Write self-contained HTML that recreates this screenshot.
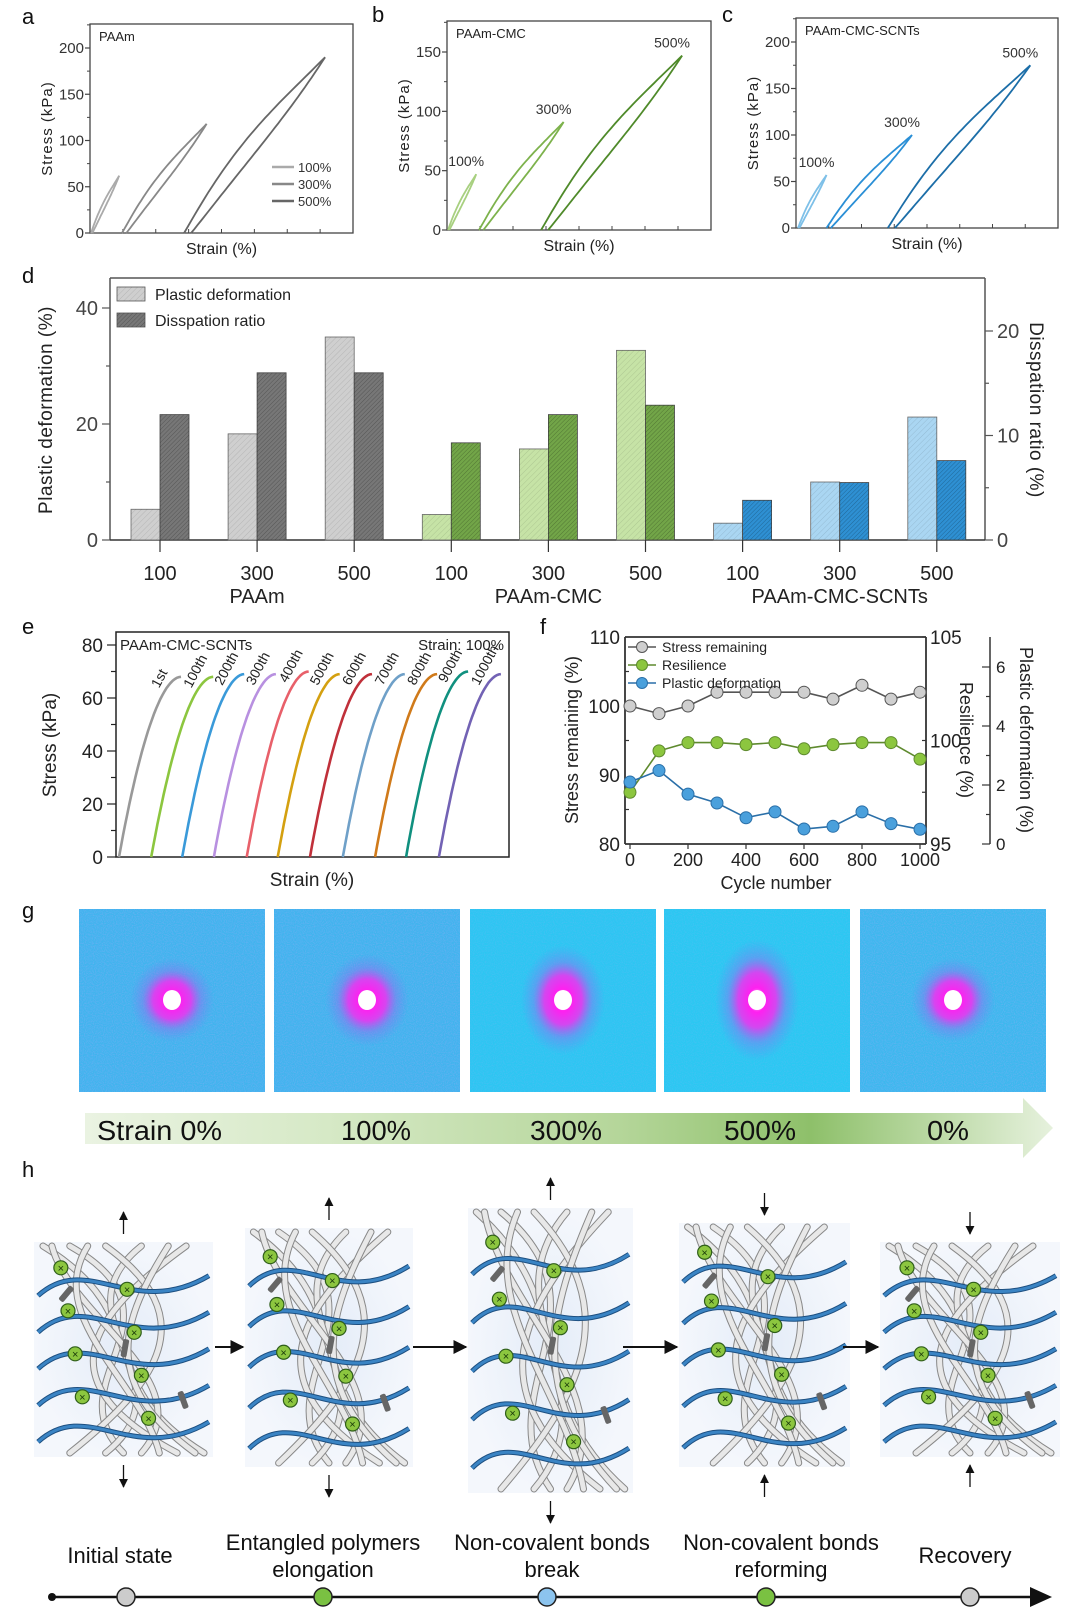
<!DOCTYPE html>
<html><head><meta charset="utf-8"><style>
body{margin:0;background:#fff;width:1080px;height:1616px;overflow:hidden;font-family:"Liberation Sans",sans-serif}
svg{position:absolute;left:0;top:0}
.n{font-family:"Liberation Sans Narrow","Liberation Sans",sans-serif}
</style></head><body>
<svg id="s" width="1080" height="1616" viewBox="0 0 1080 1616">
<defs>
<pattern id="hl" width="4" height="4" patternUnits="userSpaceOnUse" patternTransform="rotate(45)"><line x1="0" y1="0" x2="0" y2="4" stroke="#000" stroke-opacity="0.12" stroke-width="1"/></pattern>
<pattern id="hd" width="3" height="3" patternUnits="userSpaceOnUse" patternTransform="rotate(45)"><line x1="0" y1="0" x2="0" y2="3" stroke="#000" stroke-opacity="0.28" stroke-width="1"/></pattern>
<linearGradient id="band" x1="0" x2="1"><stop offset="0" stop-color="#eaf3e2"/><stop offset="0.25" stop-color="#d6e9c6"/><stop offset="0.55" stop-color="#b5d69a"/><stop offset="0.75" stop-color="#8ec06a"/><stop offset="1" stop-color="#e6f1dd"/></linearGradient>
<radialGradient id="spot"><stop offset="0" stop-color="#fff"/><stop offset="0.2" stop-color="#ff20f0"/><stop offset="0.45" stop-color="#f030f0" stop-opacity="0.85"/><stop offset="0.7" stop-color="#a060f0" stop-opacity="0.35"/><stop offset="1" stop-color="#8070f0" stop-opacity="0"/></radialGradient>
<radialGradient id="net"><stop offset="0" stop-color="#e4ecf8"/><stop offset="1" stop-color="#f4f7fc"/></radialGradient>
<filter id="noise" x="0" y="0" width="100%" height="100%"><feTurbulence type="fractalNoise" baseFrequency="0.9" numOctaves="1" seed="3"/><feColorMatrix values="0 0 0 0 0.45  0 0 0 0 0.4  0 0 0 0 0.95  0 0 0 1.2 -0.45"/></filter>
<marker id="ah" viewBox="0 0 10 10" refX="9" refY="5" markerWidth="7" markerHeight="7" orient="auto"><path d="M0,0L10,5L0,10z" fill="#111"/></marker>
</defs>
<g id="root"></g>
</svg>
<script>
// ---------- data ----------
const abcStrains=[100,300,500];
const aOffsets=[0,110,330], aPeaks=[62,118,190];
const bOffsets=[0,110,330], bPeaks=[47,91,147];
const cOffsets=[0,100,315], cPeaks=[57,100,175];
const dCats=['100','300','500','100','300','500','100','300','500'];
const dGroups=['PAAm','PAAm-CMC','PAAm-CMC-SCNTs'];
const dPlastic=[5.3,18.3,35,4.4,15.7,32.7,2.9,10,21.2];
const dDissip=[12,16,16,9.3,12,12.9,3.8,5.5,7.6];
const eLabels=['1st','100th','200th','300th','400th','500th','600th','700th','800th','900th','1000th'];
const eOffsets=[0,52,102,153,206,256,308,361,413,463,516];
const ePeaks=[68,68,69,69,70,69,69,69,69,70,69];
const fCycles=[0,100,200,300,400,500,600,700,800,900,1000];
const fStress=[100,98.9,100,102,102,102,102,101,103,101,102];
const fResil=[97.5,99.5,99.9,99.9,99.8,99.9,99.6,99.8,99.9,99.9,99.1];
const fPlastic=[2.1,2.49,1.69,1.39,0.89,1.09,0.51,0.6,1.09,0.69,0.5];

const NS='http://www.w3.org/2000/svg';
const root=document.getElementById('root');
function el(tag,attrs,parent,text){const e=document.createElementNS(NS,tag);for(const k in attrs)e.setAttribute(k,attrs[k]);if(text!==undefined)e.textContent=text;(parent||root).appendChild(e);return e;}
function txt(x,y,t,size,extra,parent){const o={x:x,y:y,'font-size':size};Object.assign(o,extra||{});return el('text',o,parent,t);}
function line(x1,y1,x2,y2,st,w,p){return el('line',{x1,y1,x2,y2,stroke:st||'#222','stroke-width':w||1.2},p);}

[['a',22,24],['b',372,22],['c',722,22],['d',22,283],['e',22,634],['f',540,634],['g',22,918],['h',22,1177]].forEach(l=>{
 const t=txt(l[1],l[2],l[0],22,{fill:'#111'});
 
 
});

// ---------- panels a-c ----------
function loopPanel(cfg){
 const g=el('g',{});
 
 
 const X=v=>cfg.x0+v*cfg.pxPer, Y=v=>cfg.base-v*(cfg.base-cfg.topTickY)/cfg.topTick;
 el('rect',{x:cfg.L,y:cfg.T,width:cfg.R-cfg.L,height:cfg.base-cfg.T,fill:'none',stroke:'#444','stroke-width':1.3},g);
 for(let v=0;v<=cfg.topTick;v+=cfg.step){const y=Y(v);line(cfg.L-5,y,cfg.L,y,'#444',1.2,g);
  const t=txt(cfg.L-6,y+5,String(v),15,{'text-anchor':'end',fill:'#333',class:'n'},g);
  
  line(cfg.L-3,Y(v+cfg.step/2),cfg.L,Y(v+cfg.step/2),'#444',1,g);}
 for(let i=1;i<8;i++){const x=cfg.L+(cfg.R-cfg.L)*i/8;line(x,cfg.base,x,cfg.base-4,'#444',1,g);}
 const yt=txt(cfg.L-38,(cfg.T+cfg.base)/2,'Stress (kPa)',15,{'text-anchor':'middle',transform:`rotate(-90 ${cfg.L-38} ${(cfg.T+cfg.base)/2})`,fill:'#222','letter-spacing':'1'},g);
 
 const xt=txt((cfg.L+cfg.R)/2,cfg.base+21,'Strain (%)',16,{'text-anchor':'middle',fill:'#222',class:'n'},g);
 
 const tt=txt(cfg.L+9,cfg.T+17,cfg.title,13,{fill:'#222',class:'n'},g);
 
 abcStrains.forEach((s,i)=>{
  const off=cfg.offsets[i],pk=cfg.peaks[i];let up='',dn='';
  for(let k=0;k<=40;k++){const t=k/40;
   const yu=pk*(0.42*(1-Math.pow(1-t,3))+0.58*Math.pow(t,1.4));
   const xd=off+s*(0.05+0.95*t);const yd=pk*(0.3*(1-Math.pow(1-t,3))+0.7*Math.pow(t,1.7));
   up+=(k?'L':'M')+X(off+s*t).toFixed(1)+','+Y(yu).toFixed(1);
   dn+=(k?'L':'M')+X(xd).toFixed(1)+','+Y(yd).toFixed(1);}
  const c=cfg.colors[i];
  const p1=el('path',{d:up,fill:'none',stroke:c,'stroke-width':1.8},g);
  
  const p2=el('path',{d:dn,fill:'none',stroke:c,'stroke-width':1.8},g);
  
  if(cfg.labels){const lt=txt(X(off+s)-10,Y(pk)-8,s+'%',14,{'text-anchor':'middle',fill:'#333',class:'n'},g);
   }
 });
 if(cfg.legend){abcStrains.forEach((s,i)=>{const y=cfg.legend[1]+i*17;line(cfg.legend[0],y,cfg.legend[0]+22,y,cfg.colors[i],2.5,g);
  const lt=txt(cfg.legend[0]+26,y+5,s+'%',13,{fill:'#333',class:'n'},g);
  });}
}
loopPanel({name:'panel-a-paam',L:90,R:353,T:24,base:233,topTick:200,topTickY:48,step:50,x0:91,pxPer:0.282,offsets:aOffsets,peaks:aPeaks,colors:['#aaa','#888','#666'],title:'PAAm',legend:[272,167]});
loopPanel({name:'panel-b-paam-cmc',L:447,R:711,T:21,base:230,topTick:150,topTickY:52,step:50,x0:448,pxPer:0.282,offsets:bOffsets,peaks:bPeaks,colors:['#a8d080','#7db24c','#4f8a2a'],title:'PAAm-CMC',labels:true});
loopPanel({name:'panel-c-scnts',L:796,R:1058,T:18,base:228,topTick:200,topTickY:42,step:50,x0:798,pxPer:0.285,offsets:cOffsets,peaks:cPeaks,colors:['#7ec0e8','#2a8fd6','#1c6ea8'],title:'PAAm-CMC-SCNTs',labels:true});

// ---------- panel d ----------
(function(){
 const g=el('g',{});
 const L=110,R=985,T=278,B=540;
 const yL=v=>B-v*5.8, yR=v=>B-v*10.45;
 const xC=i=>160+i*97.1;
 line(L,T,R,T,'#555',1.5,g);line(L,T,L,B,'#555',1.5,g);line(R,T,R,B,'#555',1.5,g);line(L,B,R,B,'#333',1.5,g);
 [0,10,20,30,40].forEach(v=>{line(L-(v%20?4:8),yL(v),L,yL(v),'#555',1.2,g);
  if(v%20===0){const t=txt(L-12,yL(v)+7,String(v),20,{'text-anchor':'end',fill:'#444',class:'n'},g);}});
 [0,5,10,15,20].forEach(v=>{line(R,yR(v),R+(v%10?4:8),yR(v),'#555',1.2,g);
  if(v%10===0){const t=txt(R+12,yR(v)+7,String(v),20,{fill:'#444',class:'n'},g);}});
 const lc=['#cfcfcf','#cfcfcf','#cfcfcf','#c6e3a6','#c6e3a6','#c6e3a6','#aad6f2','#aad6f2','#aad6f2'];
 const dc=['#777','#777','#777','#72a548','#72a548','#72a548','#2e90d3','#2e90d3','#2e90d3'];
 dCats.forEach((c,i)=>{const x=xC(i);
  const b1=el('rect',{x:x-29,y:yL(dPlastic[i]),width:29,height:B-yL(dPlastic[i]),fill:lc[i],stroke:'#666','stroke-width':0.8},g);
  
  el('rect',{x:x-29,y:yL(dPlastic[i]),width:29,height:B-yL(dPlastic[i]),fill:'url(#hl)'},g);
  const b2=el('rect',{x:x,y:yR(dDissip[i]),width:29,height:B-yR(dDissip[i]),fill:dc[i],stroke:'#444','stroke-width':0.8},g);
  
  el('rect',{x:x,y:yR(dDissip[i]),width:29,height:B-yR(dDissip[i]),fill:'url(#hd)'},g);
  line(x,B,x,B+12,'#333',1.2,g);
  const t=txt(x,B+40,c,20,{'text-anchor':'middle',fill:'#222',class:'n'},g);
 });
 dGroups.forEach((n,k)=>{const t=txt(xC(k*3+1),B+63,n,20,{'text-anchor':'middle',fill:'#222',class:'n'},g);});
 const lt=txt(52,410,'Plastic deformation (%)',19,{'text-anchor':'middle',transform:'rotate(-90 52 410)',fill:'#222','letter-spacing':'0.5'},g);
 
 const rt=txt(1030,410,'Disspation ratio (%)',19,{'text-anchor':'middle',transform:'rotate(90 1030 410)',fill:'#222','letter-spacing':'0.5'},g);
 
 [['Plastic deformation','#cfcfcf','url(#hl)',287],['Disspation ratio','#777','url(#hd)',313]].forEach(l=>{
  el('rect',{x:117,y:l[3],width:28,height:14,fill:l[1],stroke:'#555','stroke-width':0.8},g);el('rect',{x:117,y:l[3],width:28,height:14,fill:l[2]},g);
  const t=txt(155,l[3]+13,l[0],16,{fill:'#222',class:'n'},g);});
})();

// ---------- panel e ----------
(function(){
 const g=el('g',{});
 const L=116,R=509,T=632,B=857;
 const X=v=>119+v*0.62, Y=v=>B-v*(B-645)/80;
 el('rect',{x:L,y:T,width:R-L,height:B-T,fill:'none',stroke:'#222','stroke-width':1.5},g);
 for(let v=0;v<=80;v+=10){line(L-(v%20?5:9),Y(v),L,Y(v),'#222',1.2,g);
  if(v%20===0){const t=txt(L-13,Y(v)+7,String(v),19,{'text-anchor':'end',fill:'#222'},g);}}
 const cols=['#999','#8cc63f','#3a9ad9','#b890e0','#e8606a','#d4a010','#c0303a','#6fa0c8','#d07a1a','#10907f','#7262b4'];
 eLabels.forEach((lab,i)=>{let d='';
  for(let k=0;k<=30;k++){const t=k/30;d+=(k?'L':'M')+X(eOffsets[i]+100*t).toFixed(1)+','+Y(ePeaks[i]*(1-Math.pow(1-t,1.9))).toFixed(1);}
  const p=el('path',{d:d,fill:'none',stroke:cols[i],'stroke-width':2.6},g);
  
  const xe=X(eOffsets[i]+100)-22,ye=Y(ePeaks[i])+12;
  const t=txt(xe,ye,lab,14,{transform:`rotate(-62 ${xe} ${ye})`,fill:'#222'},g);
 });
 let t=txt(120,650,'PAAm-CMC-SCNTs',15,{fill:'#222'},g);
 t=txt(504,650,'Strain: 100%',15,{'text-anchor':'end',fill:'#222'},g);
 t=txt(312,886,'Strain (%)',19,{'text-anchor':'middle',fill:'#222'},g);
 t=txt(56,745,'Stress (kPa)',19,{'text-anchor':'middle',transform:'rotate(-90 56 745)',fill:'#222'},g);
})();

// ---------- panel f ----------
(function(){
 const g=el('g',{});
 const L=625,R=926,T=637,B=844;
 const X=v=>630+v*0.29, YS=v=>B-(v-80)*(B-T)/30, YR=v=>B-(v-95)*(B-T)/10, YP=v=>B-v*(B-667)/6;
 line(L,T,R,T,'#333',1.8,g);line(L,T,L,B,'#333',1.8,g);line(R,T,R,B,'#333',1.8,g);line(L,B,R,B,'#333',1.8,g);line(990,T,990,B,'#333',1.5,g);
 [80,85,90,95,100,105,110].forEach(v=>{if(v%10)line(L,YS(v),L+4,YS(v),'#333',1.2,g);
  if(v%10===0){const t=txt(L-5,YS(v)+7,String(v),19,{'text-anchor':'end',fill:'#222'},g);}});
 [95,97.5,100,102.5,105].forEach(v=>{line(R-4,YR(v),R,YR(v),'#333',1.2,g);
  if(v%5===0){const t=txt(R+4,YR(v)+7,String(v),19,{fill:'#222'},g);}});
 [0,1,2,3,4,5,6].forEach(v=>{line(990-(v%2?4:8),YP(v),990,YP(v),'#333',1.2,g);
  if(v%2===0){const t=txt(996,YP(v)+6,String(v),17,{fill:'#222'},g);}});
 fCycles.forEach(v=>{if(v%200===0){line(X(v),B,X(v),B+5,'#333',1.2,g);
  const t=txt(X(v),B+22,String(v),18,{'text-anchor':'middle',fill:'#222'},g);}});
 const series=[[fStress,YS,'#cfcfcf','#555','stress-remaining'],[fResil,YR,'#8cc63f','#5e8a2e','resilience'],[fPlastic,YP,'#4aa0dc','#2a6fa8','plastic-deformation']];
 series.forEach(s=>{const d=fCycles.map((c,i)=>(i?'L':'M')+X(c).toFixed(1)+','+s[1](s[0][i]).toFixed(1)).join('');
  const p=el('path',{d:d,fill:'none',stroke:s[3],'stroke-width':1.6},g);
  fCycles.forEach((c,i)=>{const m=el('circle',{cx:X(c),cy:s[1](s[0][i]),r:6,fill:s[2],stroke:s[3],'stroke-width':1},g);
   });});
 [['Stress remaining','#cfcfcf','#555',647],['Resilience','#8cc63f','#5e8a2e',665],['Plastic deformation','#4aa0dc','#2a6fa8',683]].forEach(l=>{
  line(628,l[3],656,l[3],l[2],1.5,g);el('circle',{cx:642,cy:l[3],r:5.5,fill:l[1],stroke:l[2]},g);
  const t=txt(662,l[3]+5,l[0],14,{fill:'#222'},g);});
 let t=txt(776,889,'Cycle number',18,{'text-anchor':'middle',fill:'#222'},g);
 t=txt(578,740,'Stress remaining (%)',18,{'text-anchor':'middle',transform:'rotate(-90 578 740)',fill:'#222'},g);
 t=txt(960,740,'Resilience (%)',18,{'text-anchor':'middle',transform:'rotate(90 960 740)',fill:'#222'},g);
 t=txt(1020,740,'Plastic deformation (%)',18,{'text-anchor':'middle',transform:'rotate(90 1020 740)',fill:'#222'},g);
})();

// ---------- panel g ----------
(function(){
 const g=el('g',{});
 const xs=[79,274,470,664,860], bgs=['#40b4ee','#40b4ee','#2cc6f2','#2ac8f2','#3cb8ee'], sy=[1,1.1,1.3,1.45,1];
 xs.forEach((x,i)=>{const r=el('rect',{x:x,y:909,width:186,height:183,fill:bgs[i]},g);
  
  el('rect',{x:x,y:909,width:186,height:183,filter:'url(#noise)',opacity:i==2||i==3?0.35:0.6},g);
  el('ellipse',{cx:x+93,cy:1000,rx:42,ry:42*sy[i],fill:'url(#spot)'},g);
  el('ellipse',{cx:x+93,cy:1000,rx:9,ry:10,fill:'#fff'},g);});
 el('path',{d:'M85,1113H1023V1098L1053,1128L1023,1158V1144H85Z',fill:'url(#band)'},g);
 [['Strain 0%',97,'start',125],['100%',376,'middle',70],['300%',566,'middle',72],['500%',760,'middle',72],['0%',948,'middle',42]].forEach(l=>{
  const t=txt(l[1],1140,l[0],28,{'text-anchor':l[2],fill:'#111',textLength:l[3],lengthAdjust:'spacingAndGlyphs'},g);});
})();

// ---------- panel h ----------
(function(){
 const g=el('g',{});
 const boxes=[[34,1242,179,215,1],[245,1228,168,239,1],[468,1208,165,285,1],[679,1223,171,244,-1],[880,1242,180,215,-1]];
 boxes.forEach((b,bi)=>{const [x,y,w,h,dir]=b;
  const r=el('rect',{x:x,y:y,width:w,height:h,fill:'url(#net)'},g);
  const gp=[[0.05,0.7,0.3,0.95],[0.2,0.9,0.1,0.5],[0.6,0.1,0.9,0.4],[0.85,0.3,0.05,0.8],[0.4,0.95,0.7,0.2],[0.1,0.2,0.95,0.6],[0.75,0.5,0.35,0.9],[0.3,0.05,0.6,0.7]];
  gp.forEach(p=>{const d=`M${x+w*p[0]},${y+4} C${x+w*p[1]},${y+h*0.35} ${x+w*p[2]},${y+h*0.65} ${x+w*p[3]},${y+h-4}`;
   el('path',{d:d,fill:'none',stroke:'#888','stroke-width':7,'stroke-linecap':'round'},g);
   el('path',{d:d,fill:'none',stroke:'#e8e8e8','stroke-width':5,'stroke-linecap':'round'},g);});
  for(let k=0;k<5;k++){const yy=y+h*(0.18+0.17*k);
   el('path',{d:`M${x+4},${yy+15} C${x+w*0.3},${yy-30} ${x+w*0.55},${yy+40} ${x+w-4},${yy-5}`,fill:'none',stroke:'#1d4f80','stroke-width':5},g);
   el('path',{d:`M${x+4},${yy+15} C${x+w*0.3},${yy-30} ${x+w*0.55},${yy+40} ${x+w-4},${yy-5}`,fill:'none',stroke:'#3a84c4','stroke-width':3},g);}
  for(let k=0;k<8;k++){const cx=x+w*(0.15+((k*37)%70)/100),cy=y+h*(0.12+k*0.1);
   el('circle',{cx:cx,cy:cy,r:7,fill:'#8cc63f',stroke:'#2f5e1a','stroke-width':1.2},g);
   txt(cx,cy+4,'×',11,{'text-anchor':'middle',fill:'#1a3a0a'},g);}
  for(let k=0;k<3;k++){el('rect',{x:x+w*(0.2+0.3*k),y:y+h*(0.2+0.25*k),width:6,height:18,rx:2,fill:'#666',transform:`rotate(${40-30*k} ${x+w*(0.2+0.3*k)} ${y+h*(0.2+0.25*k)})`},g);}
  const cx=x+w/2;
  if(dir>0){line(cx,y-8,cx,y-30,'#111',1.3,g).setAttribute('marker-end','url(#ah)');line(cx,y+h+8,cx,y+h+30,'#111',1.3,g).setAttribute('marker-end','url(#ah)');}
  else{line(cx,y-30,cx,y-8,'#111',1.3,g).setAttribute('marker-end','url(#ah)');line(cx,y+h+30,cx,y+h+8,'#111',1.3,g).setAttribute('marker-end','url(#ah)');}
 });
 [[215,243],[413,466],[623,677],[843,878]].forEach(a=>{line(a[0],1347,a[1],1347,'#111',2,g).setAttribute('marker-end','url(#ah)');});
 const tl=line(52,1597,1040,1597,'#111',2.5,g);
 el('path',{d:'M1030,1587L1052,1597L1030,1607z',fill:'#111'},g);el('circle',{cx:52,cy:1597,r:4,fill:'#111'},g);
 [[126,'#ccc'],[323,'#7ac142'],[547,'#8cc4ee'],[766,'#7ac142'],[970,'#ccc']].forEach(c=>{const m=el('circle',{cx:c[0],cy:1597,r:9,fill:c[1],stroke:'#222','stroke-width':1.5},g);
  });
 [[120,['Initial state'],1563],[323,['Entangled polymers','elongation'],1550],[552,['Non-covalent bonds','break'],1550],[781,['Non-covalent bonds','reforming'],1550],[965,['Recovery'],1563]].forEach(l=>{
  l[1].forEach((s,i)=>{const t=txt(l[0],l[2]+i*27,s,22,{'text-anchor':'middle',fill:'#111',class:'n'},g);});});
})();
</script>
</body></html>
